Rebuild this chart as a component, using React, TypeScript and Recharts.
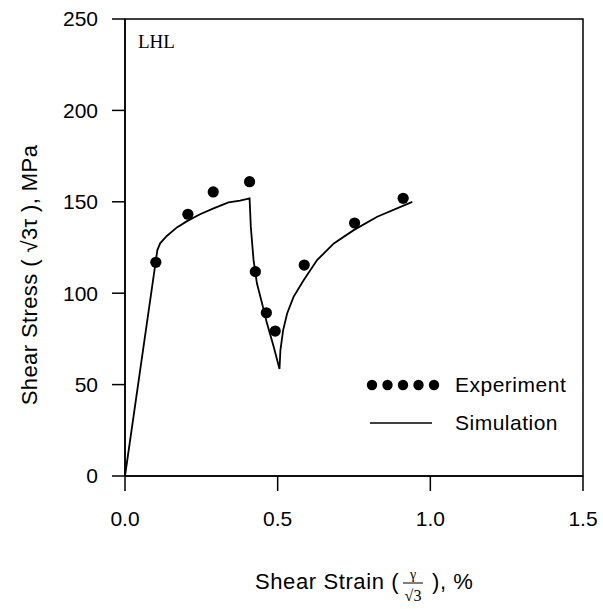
import { ScatterChart, Scatter, XAxis, YAxis, ReferenceArea } from 'recharts';

// measured points (strain %, stress MPa)
const expStrain = [0.101, 0.206, 0.289, 0.408, 0.427, 0.463, 0.492, 0.587, 0.752, 0.911];
const expStress = [116.9, 143.2, 155.4, 161.0, 111.8, 89.3, 79.3, 115.4, 138.4, 151.9];

// simulated curve
const simStrain = [0, 0.106, 0.115, 0.137, 0.170, 0.206, 0.246, 0.290, 0.339, 0.377, 0.408,
  0.412, 0.421, 0.432, 0.449, 0.465, 0.487, 0.506,
  0.509, 0.518, 0.531, 0.552, 0.585, 0.629, 0.684, 0.749, 0.826, 0.941];
const simStress = [0, 123.6, 127.3, 131.3, 136.0, 139.7, 143.2, 146.4, 149.7, 150.6, 151.9,
  136.4, 118.2, 105.4, 94.4, 83.5, 70.7, 58.5,
  68.9, 79.8, 88.9, 98.0, 107.1, 118.1, 127.2, 134.5, 141.8, 150.0];

const xTicks = [0, 0.5, 1.0, 1.5];
const yTicks = [0, 50, 100, 150, 200, 250];

const experiment = expStrain.map((x, i) => ({ x, y: expStress[i] }));
const simulation = simStrain.map((x, i) => ({ x, y: simStress[i] }));

const sans = '"Liberation Sans", Arial, sans-serif';
const serif = '"Liberation Serif", "Times New Roman", serif';

const Dot = (props: any) => <circle cx={props.cx} cy={props.cy} r={5.6} fill="#000" />;
const NoDot = () => <g />;

const XLabel = () => (
  <g fontFamily={sans} fill="#000">
    <text x={255} y={589} fontSize={22} letterSpacing={0.6}>Shear Strain (</text>
    <text x={413} y={579} fontSize={14} textAnchor="middle" fontFamily={serif}>γ</text>
    <line x1={403} x2={423} y1={583} y2={583} stroke="#000" strokeWidth={1} />
    <text x={413} y={601} fontSize={16} textAnchor="middle" fontFamily={serif}>√3</text>
    <text x={432} y={589} fontSize={22} letterSpacing={0.6}>), %</text>
  </g>
);

const YLabel = () => (
  <text x={37} y={275} fontSize={22} fontFamily={sans} textAnchor="middle" letterSpacing={0.4}
    transform="rotate(-90 37 275)" fill="#000">
    Shear Stress ( √3τ ), MPa
  </text>
);

export default function App() {
  return (
    <div style={{ position: 'absolute', left: 0, top: 0, width: 603, height: 609, background: '#fff' }}>
      <ScatterChart width={603} height={609} margin={{ top: 19, right: 20, left: 0, bottom: 0 }}>
        <XAxis
          type="number"
          dataKey="x"
          domain={[0, 1.5]}
          ticks={xTicks}
          tickFormatter={(v: number) => v.toFixed(1)}
          height={133}
          stroke="#000"
          strokeWidth={1.5}
          tickSize={15}
          tickMargin={20}
          tick={{ fill: '#000', fontSize: 21, fontFamily: sans }}
          label={{ content: XLabel }}
        />
        <YAxis
          type="number"
          dataKey="y"
          domain={[0, 250]}
          ticks={yTicks}
          width={125}
          stroke="#000"
          strokeWidth={1.5}
          tickSize={13}
          tickMargin={14}
          tick={{ fill: '#000', fontSize: 21, fontFamily: sans }}
          label={{ content: YLabel }}
        />
        <ReferenceArea x1={0} x2={1.5} y1={0} y2={250} fill="none" stroke="#000" strokeWidth={1.5} />
        <Scatter
          name="Simulation"
          data={simulation}
          line={{ stroke: '#000', strokeWidth: 1.8 }}
          lineType="joint"
          shape={NoDot}
          isAnimationActive={false}
        />
        <Scatter name="Experiment" data={experiment} shape={Dot} isAnimationActive={false} />
      </ScatterChart>

      <div style={{ position: 'absolute', left: 138, top: 31, fontFamily: serif, fontSize: 19, color: '#000' }}>
        LHL
      </div>

      <div style={{ position: 'absolute', left: 364, top: 366, fontFamily: sans, fontSize: 21, color: '#000' }}>
        <div style={{ display: 'flex', alignItems: 'center', height: 38 }}>
          <svg width={80} height={14}>
            {[0, 1, 2, 3, 4].map((i) => <circle key={i} cx={8 + i * 15.5} cy={7} r={5.2} fill="#000" />)}
          </svg>
          <span style={{ marginLeft: 11, letterSpacing: 0.5 }}>Experiment</span>
        </div>
        <div style={{ display: 'flex', alignItems: 'center', height: 38 }}>
          <svg width={80} height={14}>
            <line x1={6} x2={68} y1={7} y2={7} stroke="#000" strokeWidth={1.5} />
          </svg>
          <span style={{ marginLeft: 11, letterSpacing: 0.5 }}>Simulation</span>
        </div>
      </div>
    </div>
  );
}
